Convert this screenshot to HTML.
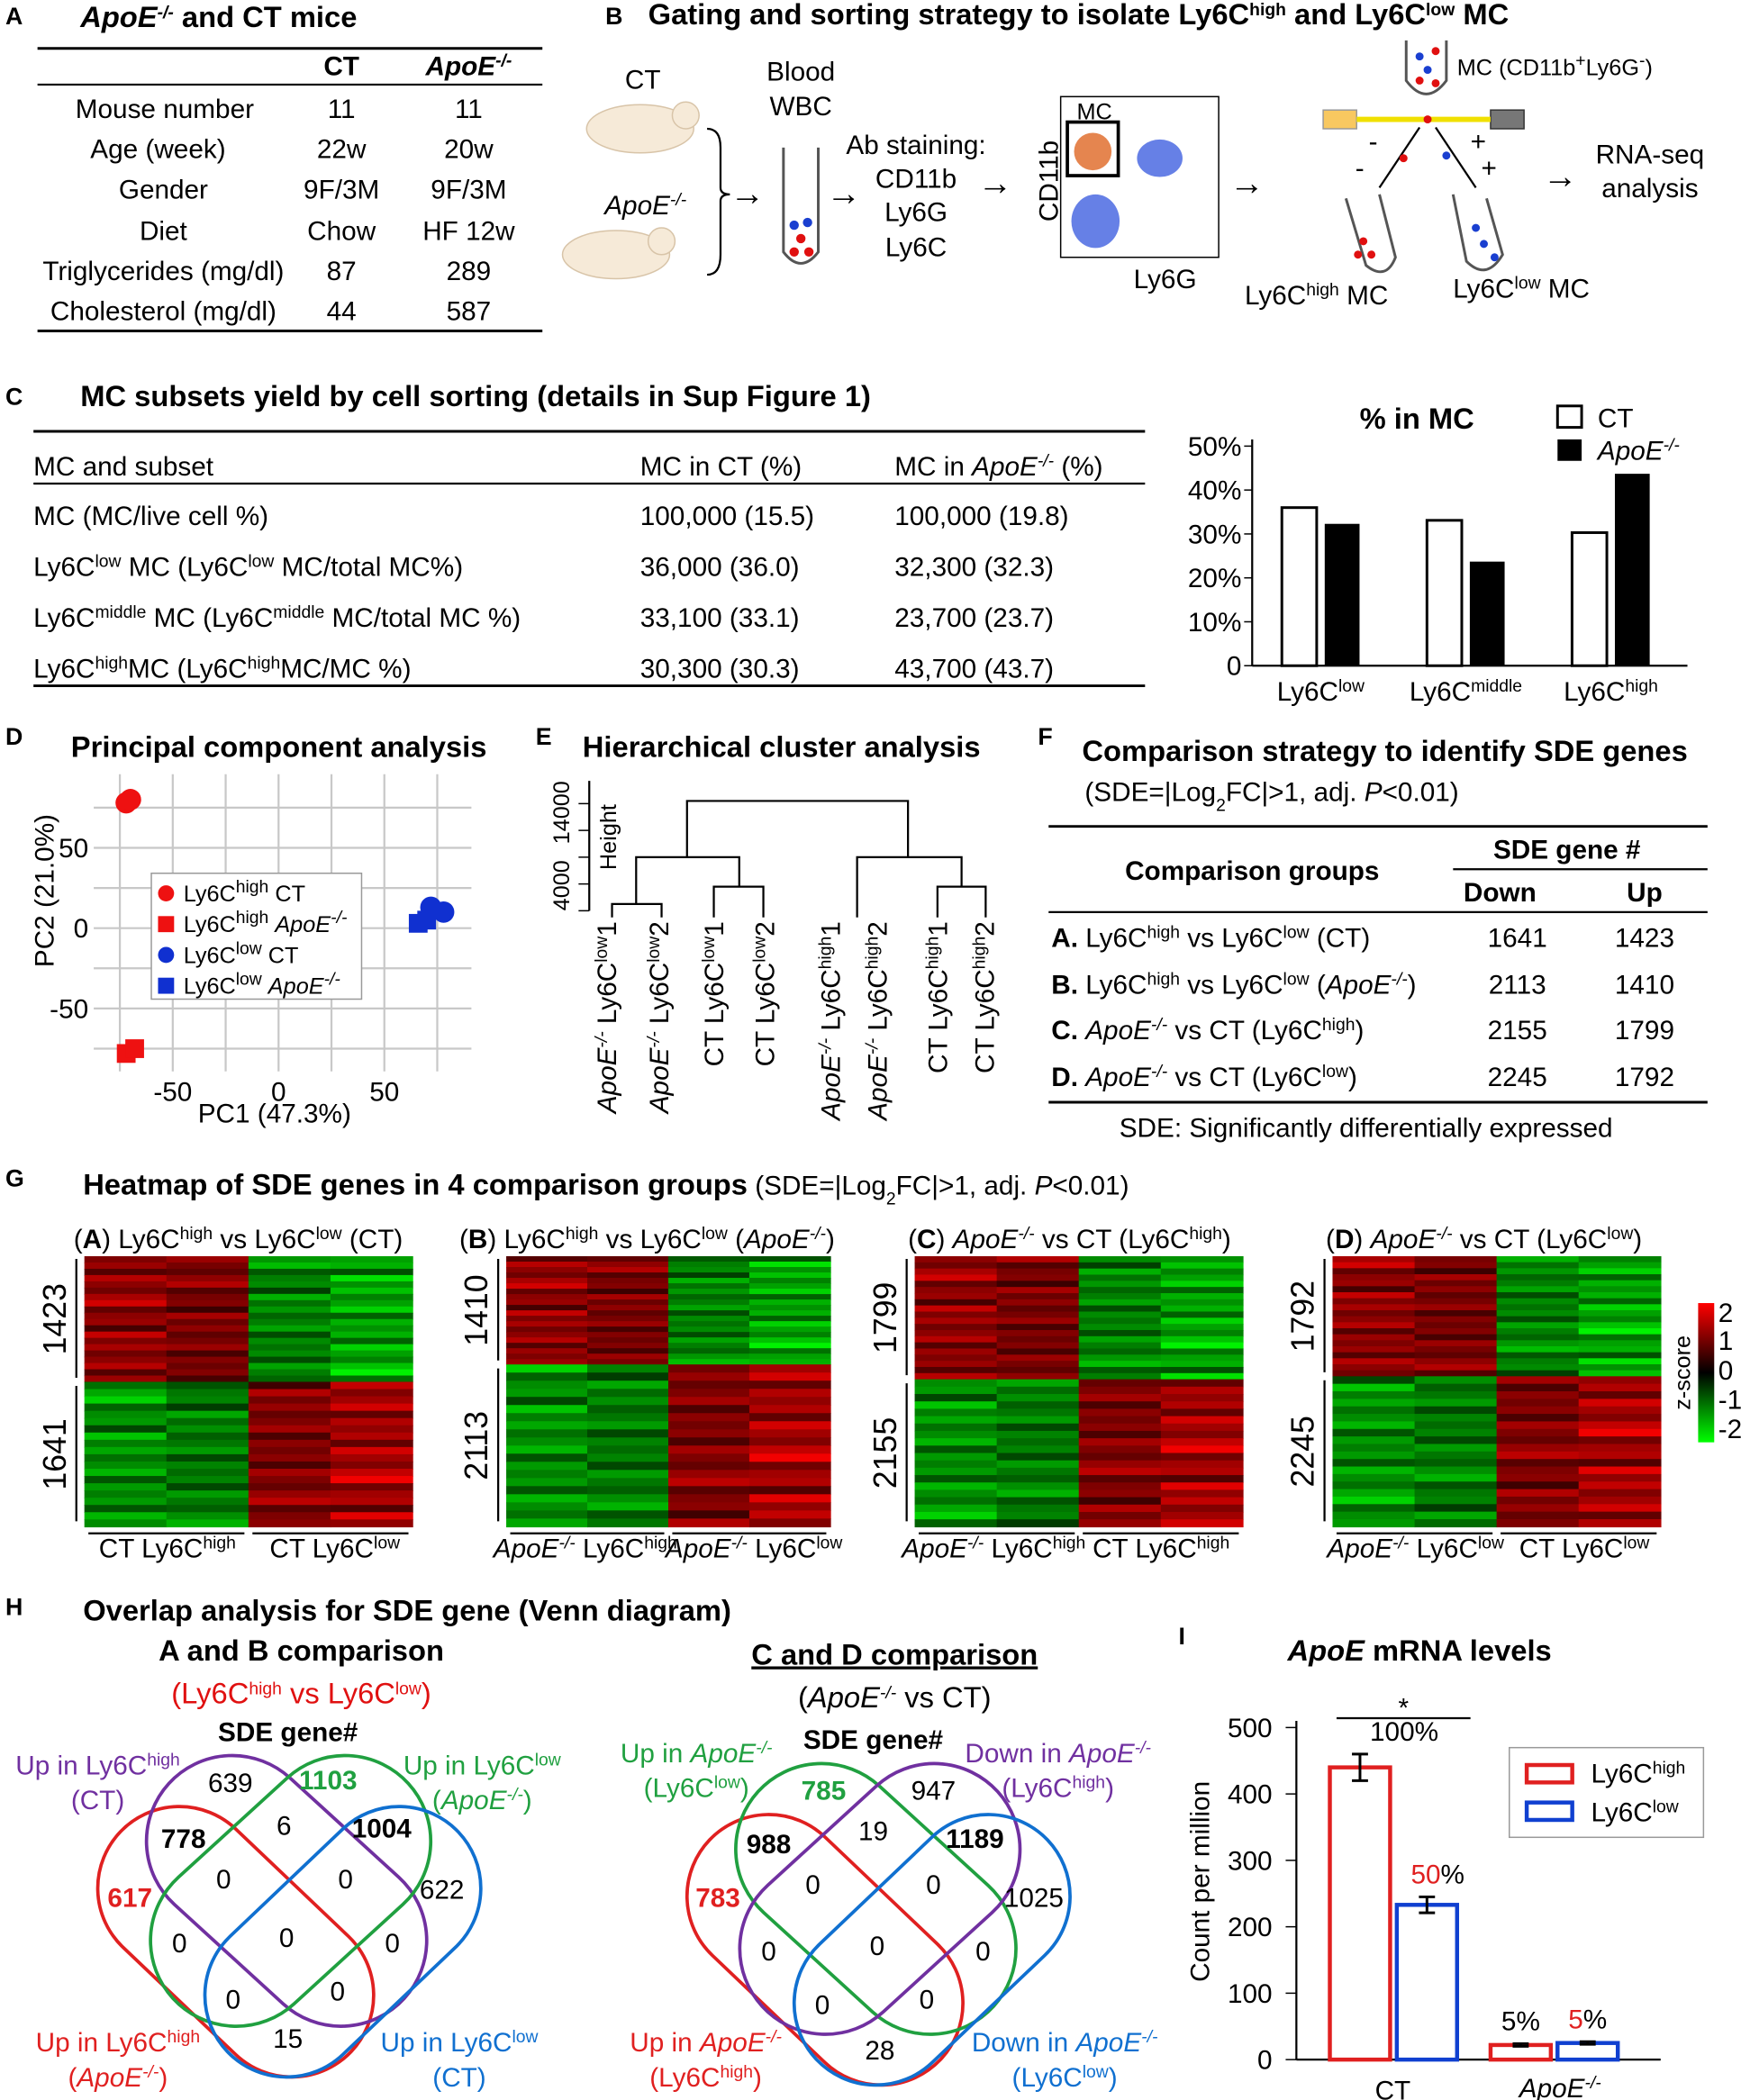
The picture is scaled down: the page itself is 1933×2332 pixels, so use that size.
<!DOCTYPE html>
<html><head><meta charset="utf-8"><style>
html,body{margin:0;padding:0;background:#fff}
svg{display:block}
text{font-family:"Liberation Sans",sans-serif;font-size:20px;fill:#000}
.b{font-weight:bold}
.lbl{font-size:18px;font-weight:bold}
.tt{font-size:22px;font-weight:bold}
.sup{font-size:13px}
.s16{font-size:17px}
.s15{font-size:16px}
</style></head><body>
<svg id="fig" width="1933" height="2332" viewBox="0 0 1300 1568" xmlns="http://www.w3.org/2000/svg">
<!-- Panel labels -->
<text class="lbl" x="4" y="18">A</text>
<text class="lbl" x="452" y="18">B</text>
<text class="lbl" x="4" y="302">C</text>
<text class="lbl" x="4" y="556">D</text>
<text class="lbl" x="400" y="556">E</text>
<text class="lbl" x="775" y="556">F</text>
<text class="lbl" x="4" y="886">G</text>
<text class="lbl" x="4" y="1206">H</text>
<text class="lbl" x="880" y="1228">I</text>

<!-- Panel A -->
<g>
<text class="tt" x="60" y="20" font-style="italic">ApoE<tspan class="sup" baseline-shift="super">-/-</tspan><tspan font-style="normal"> and CT mice</tspan></text>
<line x1="28" y1="36" x2="405" y2="36" stroke="#000" stroke-width="2"/>
<text class="b" x="255" y="56" text-anchor="middle">CT</text>
<text class="b" x="350" y="56" text-anchor="middle" font-style="italic">ApoE<tspan class="sup" baseline-shift="super">-/-</tspan></text>
<line x1="28" y1="63" x2="405" y2="63" stroke="#000" stroke-width="1.5"/>
<g text-anchor="middle">
<text x="123" y="88">Mouse number</text><text x="255" y="88">11</text><text x="350" y="88">11</text>
<text x="118" y="118">Age (week)</text><text x="255" y="118">22w</text><text x="350" y="118">20w</text>
<text x="122" y="148">Gender</text><text x="255" y="148">9F/3M</text><text x="350" y="148">9F/3M</text>
<text x="122" y="179">Diet</text><text x="255" y="179">Chow</text><text x="350" y="179">HF 12w</text>
<text x="122" y="209">Triglycerides (mg/dl)</text><text x="255" y="209">87</text><text x="350" y="209">289</text>
<text x="122" y="239">Cholesterol (mg/dl)</text><text x="255" y="239">44</text><text x="350" y="239">587</text>
</g>
<line x1="28" y1="247" x2="405" y2="247" stroke="#000" stroke-width="2"/>
</g>

<!-- Panel B -->
<g>
<text class="tt" x="484" y="18">Gating and sorting strategy to isolate Ly6C<tspan class="sup" baseline-shift="super">high</tspan> and Ly6C<tspan class="sup" baseline-shift="super">low</tspan> MC</text>
<text x="480" y="66" text-anchor="middle">CT</text>
<ellipse cx="478" cy="96" rx="40" ry="18" fill="#f6ead8" stroke="#d8c4a8"/>
<circle cx="512" cy="86" r="10" fill="#f6ead8" stroke="#d8c4a8"/>
<text x="482" y="160" text-anchor="middle" font-style="italic">ApoE<tspan class="sup" baseline-shift="super">-/-</tspan></text>
<ellipse cx="460" cy="190" rx="40" ry="18" fill="#f6ead8" stroke="#d8c4a8"/>
<circle cx="494" cy="180" r="10" fill="#f6ead8" stroke="#d8c4a8"/>
<path d="M528 96 Q538 96 538 110 L538 140 Q538 145 545 145 Q538 145 538 150 L538 190 Q538 205 528 205" fill="none" stroke="#000" stroke-width="1.5"/>
<text x="545" y="153" style="font-size:26px">→</text>
<text x="598" y="60" text-anchor="middle">Blood</text>
<text x="598" y="86" text-anchor="middle">WBC</text>
<path d="M585 110 L585 188 Q598 205 611 188 L611 110" fill="none" stroke="#555" stroke-width="2"/>
<circle cx="593" cy="168" r="3.5" fill="#1a3fd0"/><circle cx="603" cy="166" r="3.5" fill="#1a3fd0"/>
<circle cx="598" cy="178" r="3.5" fill="#e01010"/><circle cx="593" cy="188" r="3.5" fill="#e01010"/><circle cx="604" cy="188" r="3.5" fill="#e01010"/>
<text x="617" y="153" style="font-size:26px">→</text>
<text x="684" y="115" text-anchor="middle">Ab staining:</text>
<text x="684" y="140" text-anchor="middle">CD11b</text>
<text x="684" y="165" text-anchor="middle">Ly6G</text>
<text x="684" y="191" text-anchor="middle">Ly6C</text>
<text x="730" y="145" style="font-size:26px">→</text>
<text transform="translate(790,135) rotate(-90)" text-anchor="middle">CD11b</text>
<rect x="792" y="72" width="118" height="120" fill="#fff" stroke="#000"/>
<ellipse cx="818" cy="165" rx="18" ry="20" fill="#4060e0" opacity="0.8"/>
<ellipse cx="866" cy="118" rx="17" ry="14" fill="#4060e0" opacity="0.8"/>
<ellipse cx="816" cy="113" rx="14" ry="14" fill="#e07030" opacity="0.85"/>
<rect x="797" y="91" width="38" height="40" fill="none" stroke="#000" stroke-width="2.5"/>
<text x="804" y="89" class="s16">MC</text>
<text x="870" y="215" text-anchor="middle">Ly6G</text>
<text x="918" y="145" style="font-size:26px">→</text>
<path d="M1050 30 L1050 60 Q1065 80 1080 60 L1080 30" fill="none" stroke="#555" stroke-width="2"/>
<circle cx="1060" cy="42" r="3" fill="#1a3fd0"/><circle cx="1072" cy="38" r="3" fill="#e01010"/><circle cx="1066" cy="52" r="3" fill="#1a3fd0"/><circle cx="1072" cy="62" r="3" fill="#e01010"/><circle cx="1060" cy="60" r="3" fill="#e01010"/>
<text x="1088" y="56" class="s16">MC (CD11b<tspan class="sup" baseline-shift="super">+</tspan>Ly6G<tspan class="sup" baseline-shift="super">-</tspan>)</text>
<rect x="988" y="82" width="25" height="14" fill="#f8c860" stroke="#999"/>
<rect x="1113" y="82" width="25" height="14" fill="#777" stroke="#333"/>
<line x1="1013" y1="89" x2="1113" y2="89" stroke="#f0e000" stroke-width="4"/>
<circle cx="1066" cy="89" r="3" fill="#e01010"/>
<line x1="1060" y1="95" x2="1030" y2="140" stroke="#000" stroke-width="1.5"/>
<line x1="1072" y1="95" x2="1102" y2="140" stroke="#000" stroke-width="1.5"/>
<text x="1022" y="112">-</text><text x="1012" y="132">-</text><text x="1098" y="112">+</text><text x="1106" y="132">+</text>
<circle cx="1048" cy="118" r="3" fill="#e01010"/><circle cx="1080" cy="116" r="3" fill="#1a3fd0"/>
<path d="M1005 148 L1020 198 Q1035 210 1042 192 L1030 145" fill="none" stroke="#555" stroke-width="2"/>
<circle cx="1018" cy="180" r="3" fill="#e01010"/><circle cx="1024" cy="190" r="3" fill="#e01010"/><circle cx="1014" cy="190" r="3" fill="#e01010"/>
<path d="M1085 145 L1095 195 Q1110 210 1122 190 L1110 148" fill="none" stroke="#555" stroke-width="2"/>
<circle cx="1102" cy="170" r="3" fill="#1a3fd0"/><circle cx="1108" cy="182" r="3" fill="#1a3fd0"/><circle cx="1116" cy="192" r="3" fill="#1a3fd0"/>
<text x="983" y="227" text-anchor="middle">Ly6C<tspan class="sup" baseline-shift="super">high</tspan> MC</text>
<text x="1136" y="222" text-anchor="middle">Ly6C<tspan class="sup" baseline-shift="super">low</tspan> MC</text>
<text x="1152" y="140" style="font-size:26px">→</text>
<text x="1232" y="122" text-anchor="middle">RNA-seq</text>
<text x="1232" y="147" text-anchor="middle">analysis</text>
</g>

<!-- Panel C table -->
<g>
<text class="tt" x="60" y="303">MC subsets yield by cell sorting (details in Sup Figure 1)</text>
<line x1="25" y1="322" x2="855" y2="322" stroke="#000" stroke-width="2"/>
<text x="25" y="355">MC and subset</text><text x="478" y="355">MC in CT (%)</text>
<text x="668" y="355">MC in <tspan font-style="italic">ApoE<tspan class="sup" baseline-shift="super">-/-</tspan></tspan> (%)</text>
<line x1="25" y1="361" x2="855" y2="361" stroke="#000" stroke-width="1.5"/>
<text x="25" y="392">MC (MC/live cell %)</text><text x="478" y="392">100,000 (15.5)</text><text x="668" y="392">100,000 (19.8)</text>
<text x="25" y="430">Ly6C<tspan class="sup" baseline-shift="super">low</tspan> MC (Ly6C<tspan class="sup" baseline-shift="super">low</tspan> MC/total MC%)</text><text x="478" y="430">36,000 (36.0)</text><text x="668" y="430">32,300 (32.3)</text>
<text x="25" y="468">Ly6C<tspan class="sup" baseline-shift="super">middle</tspan> MC (Ly6C<tspan class="sup" baseline-shift="super">middle</tspan> MC/total MC %)</text><text x="478" y="468">33,100 (33.1)</text><text x="668" y="468">23,700 (23.7)</text>
<text x="25" y="506">Ly6C<tspan class="sup" baseline-shift="super">high</tspan>MC (Ly6C<tspan class="sup" baseline-shift="super">high</tspan>MC/MC %)</text><text x="478" y="506">30,300 (30.3)</text><text x="668" y="506">43,700 (43.7)</text>
<line x1="25" y1="512" x2="855" y2="512" stroke="#000" stroke-width="2"/>
</g>
<g id="barC">
<text class="tt" x="1058" y="320" text-anchor="middle">% in MC</text>
<rect x="1163" y="303" width="18" height="16" fill="#fff" stroke="#000" stroke-width="2"/>
<text x="1193" y="319">CT</text>
<rect x="1163" y="328" width="18" height="16" fill="#000"/>
<text x="1193" y="343" font-style="italic">ApoE<tspan class="sup" baseline-shift="super">-/-</tspan></text>
</g>

<!-- Panel D -->
<g id="pca">
<text class="tt" x="53" y="565">Principal component analysis</text>
<text transform="translate(40,665) rotate(-90)" text-anchor="middle">PC2 (21.0%)</text>
<text x="205" y="838" text-anchor="middle">PC1 (47.3%)</text>
</g>

<!-- Panel E -->
<g id="dendro">
<text class="tt" x="435" y="565">Hierarchical cluster analysis</text>
<line x1="440" y1="583" x2="440" y2="680" stroke="#000" stroke-width="1.5"/>
<line x1="432" y1="600" x2="440" y2="600" stroke="#000"/><line x1="432" y1="680" x2="440" y2="680" stroke="#000"/>
<line x1="432" y1="620" x2="440" y2="620" stroke="#000"/><line x1="432" y1="640" x2="440" y2="640" stroke="#000"/><line x1="432" y1="660" x2="440" y2="660" stroke="#000"/>
<text transform="translate(425,583) rotate(-90)" text-anchor="end" class="s16">14000</text>
<text transform="translate(425,680) rotate(-90)" text-anchor="start" class="s16">4000</text>
<text transform="translate(460,625) rotate(-90)" text-anchor="middle" class="s16">Height</text>
<g fill="none" stroke="#000" stroke-width="1.5">
<path d="M513 640 L513 598 L678 598 L678 640"/>
<path d="M475 675 L475 640 L552 640 L552 662"/>
<path d="M457 685 L457 675 L494 675 L494 685"/>
<path d="M533 685 L533 662 L570 662 L570 685"/>
<path d="M640 685 L640 640 L718 640 L718 662"/>
<path d="M700 685 L700 662 L736 662 L736 685"/>
</g>
<g>
<text transform="translate(460,688) rotate(-90)" text-anchor="end"><tspan font-style="italic">ApoE<tspan class="sup" baseline-shift="super">-/-</tspan></tspan> Ly6C<tspan class="sup" baseline-shift="super">low</tspan>1</text>
<text transform="translate(499,688) rotate(-90)" text-anchor="end"><tspan font-style="italic">ApoE<tspan class="sup" baseline-shift="super">-/-</tspan></tspan> Ly6C<tspan class="sup" baseline-shift="super">low</tspan>2</text>
<text transform="translate(540,688) rotate(-90)" text-anchor="end">CT Ly6C<tspan class="sup" baseline-shift="super">low</tspan>1</text>
<text transform="translate(578,688) rotate(-90)" text-anchor="end">CT Ly6C<tspan class="sup" baseline-shift="super">low</tspan>2</text>
<text transform="translate(627,688) rotate(-90)" text-anchor="end"><tspan font-style="italic">ApoE<tspan class="sup" baseline-shift="super">-/-</tspan></tspan> Ly6C<tspan class="sup" baseline-shift="super">high</tspan>1</text>
<text transform="translate(662,688) rotate(-90)" text-anchor="end"><tspan font-style="italic">ApoE<tspan class="sup" baseline-shift="super">-/-</tspan></tspan> Ly6C<tspan class="sup" baseline-shift="super">high</tspan>2</text>
<text transform="translate(707,688) rotate(-90)" text-anchor="end">CT Ly6C<tspan class="sup" baseline-shift="super">high</tspan>1</text>
<text transform="translate(742,688) rotate(-90)" text-anchor="end">CT Ly6C<tspan class="sup" baseline-shift="super">high</tspan>2</text>
</g>
</g>

<!-- Panel F -->
<g>
<text class="tt" x="808" y="568">Comparison strategy to identify SDE genes</text>
<text x="810" y="598">(SDE=|Log<tspan class="sup" baseline-shift="sub">2</tspan>FC|&gt;1, adj. <tspan font-style="italic">P</tspan>&lt;0.01)</text>
<line x1="783" y1="617" x2="1275" y2="617" stroke="#000" stroke-width="2"/>
<text class="b" x="935" y="657" text-anchor="middle">Comparison groups</text>
<text class="b" x="1170" y="641" text-anchor="middle">SDE gene #</text>
<line x1="1085" y1="649" x2="1275" y2="649" stroke="#000" stroke-width="1.5"/>
<text class="b" x="1120" y="673" text-anchor="middle">Down</text><text class="b" x="1228" y="673" text-anchor="middle">Up</text>
<line x1="783" y1="681" x2="1275" y2="681" stroke="#000" stroke-width="1.5"/>
<text x="785" y="707"><tspan class="b">A.</tspan> Ly6C<tspan class="sup" baseline-shift="super">high</tspan> vs Ly6C<tspan class="sup" baseline-shift="super">low</tspan> (CT)</text>
<text x="785" y="742"><tspan class="b">B.</tspan> Ly6C<tspan class="sup" baseline-shift="super">high</tspan> vs Ly6C<tspan class="sup" baseline-shift="super">low</tspan> (<tspan font-style="italic">ApoE<tspan class="sup" baseline-shift="super">-/-</tspan></tspan>)</text>
<text x="785" y="776"><tspan class="b">C.</tspan> <tspan font-style="italic">ApoE<tspan class="sup" baseline-shift="super">-/-</tspan></tspan> vs CT (Ly6C<tspan class="sup" baseline-shift="super">high</tspan>)</text>
<text x="785" y="811"><tspan class="b">D.</tspan> <tspan font-style="italic">ApoE<tspan class="sup" baseline-shift="super">-/-</tspan></tspan> vs CT (Ly6C<tspan class="sup" baseline-shift="super">low</tspan>)</text>
<g text-anchor="middle">
<text x="1133" y="707">1641</text><text x="1228" y="707">1423</text>
<text x="1133" y="742">2113</text><text x="1228" y="742">1410</text>
<text x="1133" y="776">2155</text><text x="1228" y="776">1799</text>
<text x="1133" y="811">2245</text><text x="1228" y="811">1792</text>
</g>
<line x1="783" y1="823" x2="1275" y2="823" stroke="#000" stroke-width="2"/>
<text x="1020" y="849" text-anchor="middle">SDE: Significantly differentially expressed</text>
</g>

<!-- Panel G -->
<g id="heat">
<text x="62" y="892"><tspan class="tt">Heatmap of SDE genes in 4 comparison groups</tspan> (SDE=|Log<tspan class="sup" baseline-shift="sub">2</tspan>FC|&gt;1, adj. <tspan font-style="italic">P</tspan>&lt;0.01)</text>
<text x="55" y="932">(<tspan class="b">A</tspan>) Ly6C<tspan class="sup" baseline-shift="super">high</tspan> vs Ly6C<tspan class="sup" baseline-shift="super">low</tspan> (CT)</text>
<text x="343" y="932">(<tspan class="b">B</tspan>) Ly6C<tspan class="sup" baseline-shift="super">high</tspan> vs Ly6C<tspan class="sup" baseline-shift="super">low</tspan> (<tspan font-style="italic">ApoE<tspan class="sup" baseline-shift="super">-/-</tspan></tspan>)</text>
<text x="678" y="932">(<tspan class="b">C</tspan>) <tspan font-style="italic">ApoE<tspan class="sup" baseline-shift="super">-/-</tspan></tspan> vs CT (Ly6C<tspan class="sup" baseline-shift="super">high</tspan>)</text>
<text x="990" y="932">(<tspan class="b">D</tspan>) <tspan font-style="italic">ApoE<tspan class="sup" baseline-shift="super">-/-</tspan></tspan> vs CT (Ly6C<tspan class="sup" baseline-shift="super">low</tspan>)</text>
<g text-anchor="middle" class="s15">
<text x="125" y="1163">CT Ly6C<tspan class="sup" baseline-shift="super">high</tspan></text>
<text x="250" y="1163">CT Ly6C<tspan class="sup" baseline-shift="super">low</tspan></text>
<text x="437" y="1163"><tspan font-style="italic">ApoE<tspan class="sup" baseline-shift="super">-/-</tspan></tspan> Ly6C<tspan class="sup" baseline-shift="super">high</tspan></text>
<text x="563" y="1163"><tspan font-style="italic">ApoE<tspan class="sup" baseline-shift="super">-/-</tspan></tspan> Ly6C<tspan class="sup" baseline-shift="super">low</tspan></text>
<text x="742" y="1163"><tspan font-style="italic">ApoE<tspan class="sup" baseline-shift="super">-/-</tspan></tspan> Ly6C<tspan class="sup" baseline-shift="super">high</tspan></text>
<text x="867" y="1163">CT Ly6C<tspan class="sup" baseline-shift="super">high</tspan></text>
<text x="1057" y="1163"><tspan font-style="italic">ApoE<tspan class="sup" baseline-shift="super">-/-</tspan></tspan> Ly6C<tspan class="sup" baseline-shift="super">low</tspan></text>
<text x="1183" y="1163">CT Ly6C<tspan class="sup" baseline-shift="super">low</tspan></text>
</g>
<defs><linearGradient id="zg" x1="0" y1="0" x2="0" y2="1">
<stop offset="0" stop-color="#ff0000"/><stop offset="0.5" stop-color="#000"/><stop offset="1" stop-color="#00ff00"/></linearGradient></defs>
<rect x="1268" y="973" width="12" height="104" fill="url(#zg)"/>
<g class="s16"><text x="1283" y="987">2</text><text x="1283" y="1008">1</text><text x="1283" y="1030">0</text><text x="1283" y="1052">-1</text><text x="1283" y="1074">-2</text></g>
<text transform="translate(1262,1025) rotate(-90)" text-anchor="middle" class="s16">z-score</text>
</g>

<!-- Panel H -->
<g>
<text class="tt" x="62" y="1210">Overlap analysis for SDE gene (Venn diagram)</text>
<text class="tt" x="225" y="1240" text-anchor="middle">A and B comparison</text>
<text x="225" y="1272" text-anchor="middle" style="fill:#e01010;font-size:22px">(Ly6C<tspan class="sup" baseline-shift="super">high</tspan> vs Ly6C<tspan class="sup" baseline-shift="super">low</tspan>)</text>
<text class="b" x="215" y="1300" text-anchor="middle">SDE gene#</text>
<g id="vennL" fill="none" stroke-width="2.5">
<rect x="57" y="1389" width="238" height="122" rx="61" transform="rotate(43.6 176 1450)" stroke="#e02020"/>
<rect x="95" y="1348" width="238" height="128" rx="64" transform="rotate(42.4 214 1412)" stroke="#7030a0"/>
<rect x="98" y="1348" width="238" height="128" rx="64" transform="rotate(-42.4 217 1412)" stroke="#20a040"/>
<rect x="137" y="1389" width="238" height="122" rx="61" transform="rotate(-43.6 256 1450)" stroke="#1070d0"/>
</g>
<g text-anchor="middle" class="s16">
<text x="172" y="1338">639</text><text x="245" y="1336" class="b" style="fill:#20a040">1103</text>
<text x="137" y="1380" class="b">778</text><text x="212" y="1370">6</text><text x="285" y="1372" class="b">1004</text>
<text x="97" y="1424" class="b" style="fill:#e02020">617</text><text x="167" y="1410">0</text><text x="258" y="1410">0</text><text x="330" y="1418">622</text>
<text x="134" y="1458">0</text><text x="214" y="1454">0</text><text x="293" y="1458">0</text>
<text x="174" y="1500">0</text><text x="252" y="1494">0</text><text x="215" y="1529">15</text>
</g>
<text x="73" y="1325" text-anchor="middle" style="fill:#7030a0">Up in Ly6C<tspan class="sup" baseline-shift="super">high</tspan></text>
<text x="73" y="1351" text-anchor="middle" style="fill:#7030a0">(CT)</text>
<text x="360" y="1325" text-anchor="middle" style="fill:#20a040">Up in Ly6C<tspan class="sup" baseline-shift="super">low</tspan></text>
<text x="360" y="1351" text-anchor="middle" style="fill:#20a040">(<tspan font-style="italic">ApoE<tspan class="sup" baseline-shift="super">-/-</tspan></tspan>)</text>
<text x="88" y="1532" text-anchor="middle" style="fill:#e02020">Up in Ly6C<tspan class="sup" baseline-shift="super">high</tspan></text>
<text x="88" y="1558" text-anchor="middle" style="fill:#e02020">(<tspan font-style="italic">ApoE<tspan class="sup" baseline-shift="super">-/-</tspan></tspan>)</text>
<text x="343" y="1532" text-anchor="middle" style="fill:#1070d0">Up in Ly6C<tspan class="sup" baseline-shift="super">low</tspan></text>
<text x="343" y="1558" text-anchor="middle" style="fill:#1070d0">(CT)</text>

<text class="tt" x="668" y="1243" text-anchor="middle" text-decoration="underline">C and D comparison</text>
<text x="668" y="1275" text-anchor="middle" style="font-size:22px">(<tspan font-style="italic">ApoE<tspan class="sup" baseline-shift="super">-/-</tspan></tspan> vs CT)</text>
<text class="b" x="652" y="1306" text-anchor="middle">SDE gene#</text>
<g id="vennR" fill="none" stroke-width="2.5" transform="translate(440,6)">
<rect x="57" y="1389" width="238" height="122" rx="61" transform="rotate(43.6 176 1450)" stroke="#e02020"/>
<rect x="95" y="1348" width="238" height="128" rx="64" transform="rotate(42.4 214 1412)" stroke="#20a040"/>
<rect x="98" y="1348" width="238" height="128" rx="64" transform="rotate(-42.4 217 1412)" stroke="#7030a0"/>
<rect x="137" y="1389" width="238" height="122" rx="61" transform="rotate(-43.6 256 1450)" stroke="#1070d0"/>
</g>
<g text-anchor="middle" class="s16">
<text x="615" y="1344" class="b" style="fill:#20a040">785</text><text x="697" y="1344">947</text>
<text x="574" y="1384" class="b">988</text><text x="652" y="1374">19</text><text x="728" y="1380" class="b">1189</text>
<text x="536" y="1424" class="b" style="fill:#e02020">783</text><text x="607" y="1414">0</text><text x="697" y="1414">0</text><text x="772" y="1424">1025</text>
<text x="574" y="1464">0</text><text x="655" y="1460">0</text><text x="734" y="1464">0</text>
<text x="614" y="1504">0</text><text x="692" y="1500">0</text><text x="657" y="1538">28</text>
</g>
<text x="520" y="1316" text-anchor="middle" style="fill:#20a040">Up in <tspan font-style="italic">ApoE<tspan class="sup" baseline-shift="super">-/-</tspan></tspan></text>
<text x="520" y="1342" text-anchor="middle" style="fill:#20a040">(Ly6C<tspan class="sup" baseline-shift="super">low</tspan>)</text>
<text x="790" y="1316" text-anchor="middle" style="fill:#7030a0">Down in <tspan font-style="italic">ApoE<tspan class="sup" baseline-shift="super">-/-</tspan></tspan></text>
<text x="790" y="1342" text-anchor="middle" style="fill:#7030a0">(Ly6C<tspan class="sup" baseline-shift="super">high</tspan>)</text>
<text x="527" y="1532" text-anchor="middle" style="fill:#e02020">Up in <tspan font-style="italic">ApoE<tspan class="sup" baseline-shift="super">-/-</tspan></tspan></text>
<text x="527" y="1558" text-anchor="middle" style="fill:#e02020">(Ly6C<tspan class="sup" baseline-shift="super">high</tspan>)</text>
<text x="795" y="1532" text-anchor="middle" style="fill:#1070d0">Down in <tspan font-style="italic">ApoE<tspan class="sup" baseline-shift="super">-/-</tspan></tspan></text>
<text x="795" y="1558" text-anchor="middle" style="fill:#1070d0">(Ly6C<tspan class="sup" baseline-shift="super">low</tspan>)</text>
</g>

<!-- Panel I -->
<g id="barI">
<text class="tt" x="1060" y="1240" text-anchor="middle"><tspan font-style="italic">ApoE</tspan> mRNA levels</text>
<text transform="translate(903,1405) rotate(-90)" text-anchor="middle">Count per million</text>
<rect x="1127" y="1305" width="145" height="67" fill="#fff" stroke="#999"/>
<rect x="1140" y="1318" width="34" height="13" fill="none" stroke="#e02020" stroke-width="3"/>
<text x="1188" y="1331">Ly6C<tspan class="sup" baseline-shift="super">high</tspan></text>
<rect x="1140" y="1346" width="34" height="13" fill="none" stroke="#1040d0" stroke-width="3"/>
<text x="1188" y="1360">Ly6C<tspan class="sup" baseline-shift="super">low</tspan></text>
<line x1="998" y1="1283" x2="1098" y2="1283" stroke="#000" stroke-width="1.5"/>
<text x="1048" y="1282" text-anchor="middle">*</text>
<text x="1040" y="1568" text-anchor="middle">CT</text>
<text x="1165" y="1566" text-anchor="middle" font-style="italic">ApoE<tspan class="sup" baseline-shift="super">-/-</tspan></text>
</g>
</svg>
<script>
const NS='http://www.w3.org/2000/svg';
function mk(tag,attrs,parent){const e=document.createElementNS(NS,tag);for(const k in attrs)e.setAttribute(k,attrs[k]);parent.appendChild(e);return e;}

// ---- Panel C bar chart data ----
const cCategories=['Ly6Clow','Ly6Cmiddle','Ly6Chigh'];
const cSupers=['low','middle','high'];
const cCT=[36.0,33.1,30.3];
const cApoE=[32.3,23.7,43.7];
const cTicks=[0,10,20,30,40,50];
// ---- Panel D PCA data ----
const pcaHighCTx=[-72,-70], pcaHighCTy=[78,80];
const pcaHighApoEx=[-72,-68], pcaHighApoEy=[-78,-75];
const pcaLowCTx=[72,78], pcaLowCTy=[13,10];
const pcaLowApoEx=[66,70], pcaLowApoEy=[3,5];
const pcaXTicks=[-50,0,50], pcaYTicks=[50,0,-50];
// ---- Panel G heatmap data ----
const hmUp=[1423,1410,1799,1792];
const hmDown=[1641,2113,2155,2245];
const hmColSign=[[1,1,-1,-1],[1,1,-1,-1],[1,1,-1,-1],[1,1,-1,-1]];
const hmRowVar=[0.9,1.1,0.6,1.3,1.0,0.8,1.2,1.5,0.7,1.0,1.1,0.5,1.4,0.9,1.2,0.8,1.0,1.3,0.6,1.1];
const hmColVar=[1.0,0.85,0.9,1.15];
// ---- Panel I bar data ----
const iGroups=['CT','ApoE'];
const iHigh=[440,22], iHighErr=[20,2];
const iLow=[233,25], iLowErr=[12,2];
const iPctHigh=['100','5'], iPctLow=['50','5'];
const iTicks=[0,100,200,300,400,500];

// Panel C
(function(){
 const g=document.getElementById('barC');
 const x0=935,y0=497,x1=1260,yTop=333;
 const ys=v=>y0-(v/50)*(y0-yTop);
 mk('line',{x1:x0,y1:yTop-5,x2:x0,y2:y0,stroke:'#000','stroke-width':1.5},g);
 mk('line',{x1:x0,y1:y0,x2:x1,y2:y0,stroke:'#000','stroke-width':1.5},g);
 cTicks.forEach(t=>{mk('line',{x1:x0-6,y1:ys(t),x2:x0,y2:ys(t),stroke:'#000'},g);
  const tx=mk('text',{x:x0-8,y:ys(t)+7,'text-anchor':'end'},g);tx.textContent=t===0?'0':t+'%';
  
  });
 const bw=26,gw=(x1-x0)/3;
 cCategories.forEach((c,i)=>{
  const cx=x0+gw*i+gw/2-3;
  const r1=mk('rect',{x:cx-bw-3,y:ys(cCT[i]),width:bw,height:y0-ys(cCT[i]),fill:'#fff',stroke:'#000','stroke-width':2},g);
  
  
  const r2=mk('rect',{x:cx+3,y:ys(cApoE[i]),width:bw,height:y0-ys(cApoE[i]),fill:'#000'},g);
  
  
  const t=mk('text',{x:cx,y:523,'text-anchor':'middle'},g);
  t.innerHTML='Ly6C<tspan class="sup" baseline-shift="super">'+cSupers[i]+'</tspan>';
  
  
 });
})();

// Panel D
(function(){
 const g=document.getElementById('pca');
 const X=v=>208+v*1.58, Y=v=>693-v*1.2;
 const L=70,R=352,T=578,B=800;
 for(let v=-75;v<=90;v+=25){const x=X(v);if(x>=L&&x<=R)mk('line',{x1:x,y1:T,x2:x,y2:B,stroke:'#c8c8c8','stroke-width':1.5},g);}
 for(let v=-75;v<=100;v+=25){const y=Y(v);if(y>=T&&y<=B)mk('line',{x1:L,y1:y,x2:R,y2:y,stroke:'#c8c8c8','stroke-width':1.5},g);}
 pcaXTicks.forEach(t=>{const e=mk('text',{x:X(t),y:822,'text-anchor':'middle'},g);e.textContent=t;
  
  });
 pcaYTicks.forEach(t=>{const e=mk('text',{x:66,y:Y(t)+7,'text-anchor':'end'},g);e.textContent=t;
  
  });
 function pts(xs,ys,col,sq,name){xs.forEach((v,i)=>{let e;
  if(sq)e=mk('rect',{x:X(v)-7,y:Y(ys[i])-7,width:14,height:14,fill:col},g);
  else e=mk('circle',{cx:X(v),cy:Y(ys[i]),r:8,fill:col},g);
  
  });}
 pts(pcaHighCTx,pcaHighCTy,'#ee1111',false,'point-high-ct');
 pts(pcaHighApoEx,pcaHighApoEy,'#ee1111',true,'point-high-apoe');
 pts(pcaLowCTx,pcaLowCTy,'#1030d0',false,'point-low-ct');
 pts(pcaLowApoEx,pcaLowApoEy,'#1030d0',true,'point-low-apoe');
 const lg=mk('g',{},g);
 
 
 mk('rect',{x:113,y:652,width:157,height:94,fill:'#fff',stroke:'#999'},lg);
 const items=[['#ee1111',0,'Ly6C<tspan class="sup" baseline-shift="super">high</tspan> CT'],['#ee1111',1,'Ly6C<tspan class="sup" baseline-shift="super">high</tspan> <tspan font-style="italic">ApoE<tspan class="sup" baseline-shift="super">-/-</tspan></tspan>'],['#1030d0',0,'Ly6C<tspan class="sup" baseline-shift="super">low</tspan> CT'],['#1030d0',1,'Ly6C<tspan class="sup" baseline-shift="super">low</tspan> <tspan font-style="italic">ApoE<tspan class="sup" baseline-shift="super">-/-</tspan></tspan>']];
 items.forEach((it,i)=>{const y=667+i*23;
  if(it[1])mk('rect',{x:118,y:y-6,width:12,height:12,fill:it[0]},lg);else mk('circle',{cx:124,cy:y,r:6,fill:it[0]},lg);
  const t=mk('text',{x:137,y:y+6,class:'s16'},lg);t.innerHTML=it[2];});
})();

// Panel G
(function(){
 const g=document.getElementById('heat');
 const boxes=[[63,308],[378,620],[683,928],[995,1240]];
 const yT=938,yB=1140;
 function col(z){z=Math.max(-2,Math.min(2,z));const r=z>0?Math.round(255*z/2):0;const gg=z<0?Math.round(255*-z/2):0;return 'rgb('+r+','+gg+',0)';}
 boxes.forEach((b,p)=>{
  const tot=hmUp[p]+hmDown[p];
  const yMid=yT+(yB-yT)*hmUp[p]/tot;
  const w=(b[1]-b[0])/4;
  const hg=mk('g',{},g);
  
  
  [[yT,yMid,1],[yMid,yB,-1]].forEach((seg,si)=>{
   const n=hmRowVar.length;const rh=(seg[1]-seg[0])/n;
   for(let r=0;r<n;r++){for(let c=0;c<4;c++){
    const z=seg[2]*hmColSign[p][c]*hmRowVar[(r+c*3+si*5+p*2)%n]*hmColVar[c];
    const e=mk('rect',{x:b[0]+c*w,y:seg[0]+r*rh,width:w+0.5,height:rh+0.5,fill:col(z*1.1)},hg);
    
    }}
  });
  mk('line',{x1:b[0]-6,y1:yT+2,x2:b[0]-6,y2:yMid-3,stroke:'#000','stroke-width':1.5},hg);
  mk('line',{x1:b[0]-6,y1:yMid+3,x2:b[0]-6,y2:yB-4,stroke:'#000','stroke-width':1.5},hg);
  const t1=mk('text',{transform:'translate('+(b[0]-14)+','+((yT+yMid)/2)+') rotate(-90)','text-anchor':'middle',style:'font-size:24px'},hg);t1.textContent=hmUp[p];
  const t2=mk('text',{transform:'translate('+(b[0]-14)+','+((yMid+yB)/2)+') rotate(-90)','text-anchor':'middle',style:'font-size:24px'},hg);t2.textContent=hmDown[p];
  mk('line',{x1:b[0]+3,y1:yB+5,x2:b[0]+2*w-3,y2:yB+5,stroke:'#000','stroke-width':1.5},hg);
  mk('line',{x1:b[0]+2*w+3,y1:yB+5,x2:b[1]-3,y2:yB+5,stroke:'#000','stroke-width':1.5},hg);
 });
})();

// Panel I
(function(){
 const g=document.getElementById('barI');
 const x0=968,y0=1538,yTop=1290,x1=1240;
 const ys=v=>y0-(v/500)*(y0-yTop);
 mk('line',{x1:x0,y1:yTop-5,x2:x0,y2:y0,stroke:'#000','stroke-width':1.5},g);
 mk('line',{x1:x0,y1:y0,x2:x1,y2:y0,stroke:'#000','stroke-width':1.5},g);
 iTicks.forEach(t=>{mk('line',{x1:x0-8,y1:ys(t),x2:x0,y2:ys(t),stroke:'#000'},g);
  const e=mk('text',{x:x0-18,y:ys(t)+7,'text-anchor':'end'},g);e.textContent=t;
  
  });
 const starts=[993,1113];const bw=45;
 iGroups.forEach((gname,i)=>{
  const xs=starts[i];
  [[iHigh,iHighErr,'#e02020',xs,iPctHigh,'high'],[iLow,iLowErr,'#1040d0',xs+bw+5,iPctLow,'low']].forEach(s=>{
   const v=s[0][i],er=s[1][i];
   const r=mk('rect',{x:s[3],y:ys(v),width:bw,height:y0-ys(v),fill:'none',stroke:s[2],'stroke-width':3},g);
   
   
   const cx=s[3]+bw/2;
   mk('line',{x1:cx,y1:ys(v+er),x2:cx,y2:ys(v-er),stroke:'#000','stroke-width':2},g);
   mk('line',{x1:cx-6,y1:ys(v+er),x2:cx+6,y2:ys(v+er),stroke:'#000','stroke-width':2},g);
   mk('line',{x1:cx-6,y1:ys(v-er),x2:cx+6,y2:ys(v-er),stroke:'#000','stroke-width':2},g);
   const pct=s[4][i];
   const dx=(i===0&&s[5]==='high')?33:(i===0?8:0);
   const t=mk('text',{x:cx+dx,y:ys(v+er)-10,'text-anchor':'middle'},g);
   t.innerHTML='<tspan style="fill:'+(s[5]==='low'?'#e02020':'#000')+'">'+pct+'</tspan>%';
   
   
  });
 });
})();
</script>
</body></html>
